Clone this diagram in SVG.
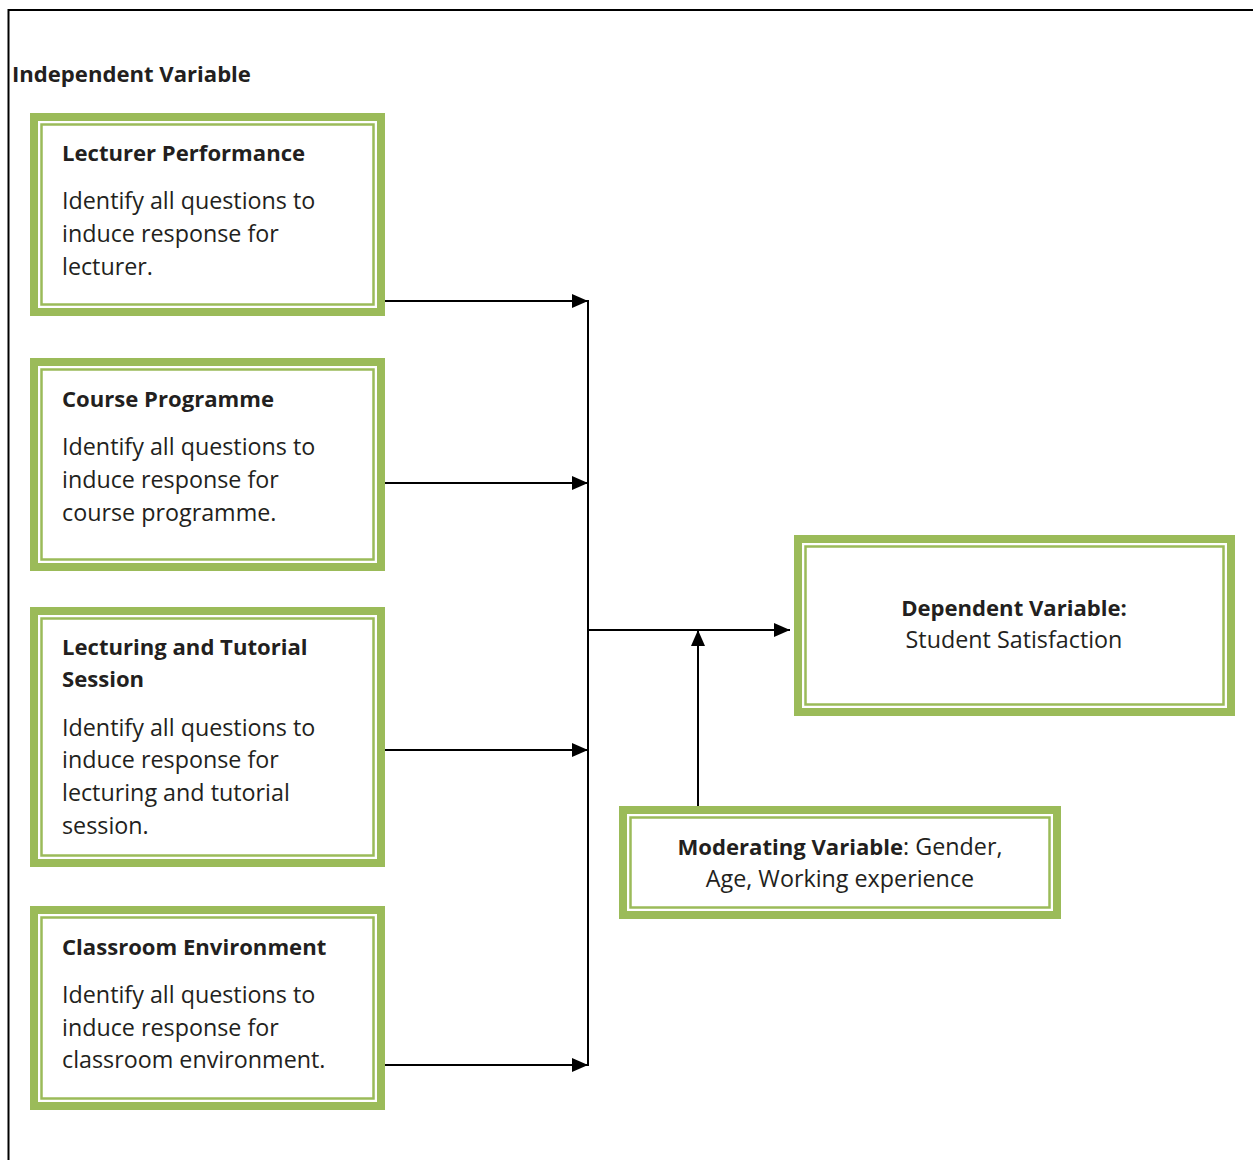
<svg xmlns="http://www.w3.org/2000/svg" width="1253" height="1160" viewBox="0 0 1253 1160">
  <style>
    .outer { fill: #ffffff; stroke: #9BBB59; stroke-width: 8; }
    .inner { fill: none; stroke: #9BBB59; stroke-width: 2.5; }
    text { font-family: "Open Sans", "Liberation Sans", sans-serif; fill: #231f20; font-size: 23.3px; }
    .b { font-weight: bold; font-size: 22.1px; }
    .mid { text-anchor: middle; }
    .wire { fill: none; stroke: #000; stroke-width: 2; }
  </style>
  <defs>
    <marker id="arrow" viewBox="0 0 16 14" refX="16" refY="7" markerWidth="16" markerHeight="14" markerUnits="userSpaceOnUse" orient="auto">
      <path d="M0,0 L16,7 L0,14 Z" fill="#000"/>
    </marker>
  </defs>

  <rect width="1253" height="1160" fill="#ffffff"/>

  <!-- page frame -->
  <path d="M8.5,1160 V10 H1253" fill="none" stroke="#000" stroke-width="2"/>

  <text x="12" y="82" class="b">Independent Variable</text>

  <g id="lecturer-performance">
    <rect class="outer" x="34" y="117" width="347" height="195"/>
    <rect class="inner" x="41.5" y="124.5" width="332" height="180"/>
    <text x="62" y="161" class="b">Lecturer Performance</text>
    <text x="62" y="209">Identify all questions to</text>
    <text x="62" y="242">induce response for</text>
    <text x="62" y="275">lecturer.</text>
  </g>

  <g id="course-programme">
    <rect class="outer" x="34" y="362" width="347" height="205"/>
    <rect class="inner" x="41.5" y="369.5" width="332" height="190"/>
    <text x="62" y="407" class="b">Course Programme</text>
    <text x="62" y="455">Identify all questions to</text>
    <text x="62" y="488">induce response for</text>
    <text x="62" y="521">course programme.</text>
  </g>

  <g id="lecturing-tutorial">
    <rect class="outer" x="34" y="611" width="347" height="252"/>
    <rect class="inner" x="41.5" y="618.5" width="332" height="237"/>
    <text x="62" y="655" class="b">Lecturing and Tutorial</text>
    <text x="62" y="687" class="b">Session</text>
    <text x="62" y="736">Identify all questions to</text>
    <text x="62" y="768">induce response for</text>
    <text x="62" y="801">lecturing and tutorial</text>
    <text x="62" y="834">session.</text>
  </g>

  <g id="classroom-environment">
    <rect class="outer" x="34" y="910" width="347" height="196"/>
    <rect class="inner" x="41.5" y="917.5" width="332" height="181"/>
    <text x="62" y="955" class="b">Classroom Environment</text>
    <text x="62" y="1003">Identify all questions to</text>
    <text x="62" y="1036">induce response for</text>
    <text x="62" y="1068">classroom environment.</text>
  </g>

  <g id="dependent-variable">
    <rect class="outer" x="798" y="539" width="433" height="173"/>
    <rect class="inner" x="805.5" y="546.5" width="418" height="158"/>
    <text x="1014" y="616" class="b mid">Dependent Variable:</text>
    <text x="1014" y="648" class="mid">Student Satisfaction</text>
  </g>

  <g id="moderating-variable">
    <rect class="outer" x="623" y="810" width="434" height="105"/>
    <rect class="inner" x="630.5" y="817.5" width="419" height="90"/>
    <text x="840" y="855" class="mid"><tspan class="b">Moderating Variable</tspan>: Gender,</text>
    <text x="840" y="887" class="mid">Age, Working experience</text>
  </g>

  <g id="connectors">
    <line class="wire" x1="385" y1="301" x2="588" y2="301" marker-end="url(#arrow)"/>
    <line class="wire" x1="385" y1="483" x2="588" y2="483" marker-end="url(#arrow)"/>
    <line class="wire" x1="385" y1="750" x2="588" y2="750" marker-end="url(#arrow)"/>
    <line class="wire" x1="385" y1="1065" x2="588" y2="1065" marker-end="url(#arrow)"/>
    <line class="wire" x1="588" y1="300" x2="588" y2="1066"/>
    <line class="wire" x1="588" y1="630" x2="790" y2="630" marker-end="url(#arrow)"/>
    <line class="wire" x1="698" y1="806" x2="698" y2="630" marker-end="url(#arrow)"/>
  </g>
</svg>
